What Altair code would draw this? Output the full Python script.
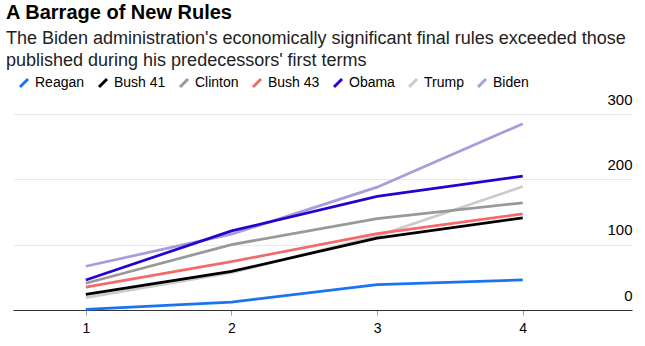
import altair as alt
import pandas as pd

presidents = ["Reagan", "Bush 41", "Clinton", "Bush 43", "Obama", "Trump", "Biden"]
colors = ["#1a73ef", "#000000", "#999999", "#f26b6b", "#2a00d0", "#cccccc", "#a89ddb"]
years = [1, 2, 3, 4]
values = {
    "Reagan": [1, 12, 39, 46],
    "Bush 41": [24, 59, 110, 141],
    "Clinton": [41, 100, 140, 164],
    "Bush 43": [35, 74, 117, 147],
    "Obama": [46, 121, 174, 205],
    "Trump": [19, 57, 113, 189],
    "Biden": [67, 116, 188, 285],
}
draw_order = ["Biden", "Trump", "Obama", "Bush 43", "Clinton", "Bush 41", "Reagan"]

rows = []
for p in draw_order:
    for yr, v in zip(years, values[p]):
        rows.append({"President": p, "Year": yr, "Rules": v})
df = pd.DataFrame(rows)

FONT = "Liberation Sans"

chart = alt.Chart(df).mark_line(strokeWidth=2.75).encode(
    x=alt.X("Year:Q", scale=alt.Scale(domain=[0.5, 4.75], nice=False, zero=False),
            axis=alt.Axis(values=years, format="d", title=None, grid=False,
                          domain=True, domainColor="#333333", domainWidth=1,
                          ticks=True, tickSize=5, tickColor="#999999",
                          labelFontSize=14, labelPadding=6, labelColor="#000000",
                          labelFont=FONT)),
    y=alt.Y("Rules:Q", scale=alt.Scale(domain=[0, 300], nice=False),
            axis=alt.Axis(orient="right", values=[0, 100, 200, 300], title=None,
                          grid=True, gridColor="#e9e9e9", gridWidth=1,
                          domain=False, ticks=False, tickSize=0,
                          labelAlign="right", labelBaseline="alphabetic",
                          labelPadding=0, labelOffset=-10, labelFontSize=15,
                          labelColor="#000000", labelFont=FONT)),
    color=alt.Color("President:N",
                    scale=alt.Scale(domain=presidents, range=colors),
                    legend=alt.Legend(orient="none", legendX=4, legendY=-38,
                                      direction="horizontal", title=None,
                                      symbolType="M-1,1L1,-1", symbolSize=64,
                                      symbolStrokeWidth=3, labelFontSize=14,
                                      labelFont=FONT, labelColor="#000000",
                                      labelOffset=4, columnPadding=8,
                                      padding=0)),
).properties(
    width=619,
    height=196,
    autosize=alt.AutoSizeParams(type="none"),
    padding={"left": 13, "right": 13, "top": 114, "bottom": 36},
    title=alt.TitleParams(
        text="A Barrage of New Rules",
        subtitle=["The Biden administration's economically significant final rules exceeded those",
                  "published during his predecessors' first terms"],
        anchor="start", frame="group", orient="top", dx=-7,
        font=FONT, fontSize=20, fontWeight="bold", color="#000000",
        subtitleFont=FONT, subtitleFontSize=18, subtitleColor="#222222",
        subtitleLineHeight=22, subtitlePadding=7, offset=6,
    ),
).configure_view(stroke=None)

chart.save("out.html", embed_options={"renderer": "svg", "actions": False})
